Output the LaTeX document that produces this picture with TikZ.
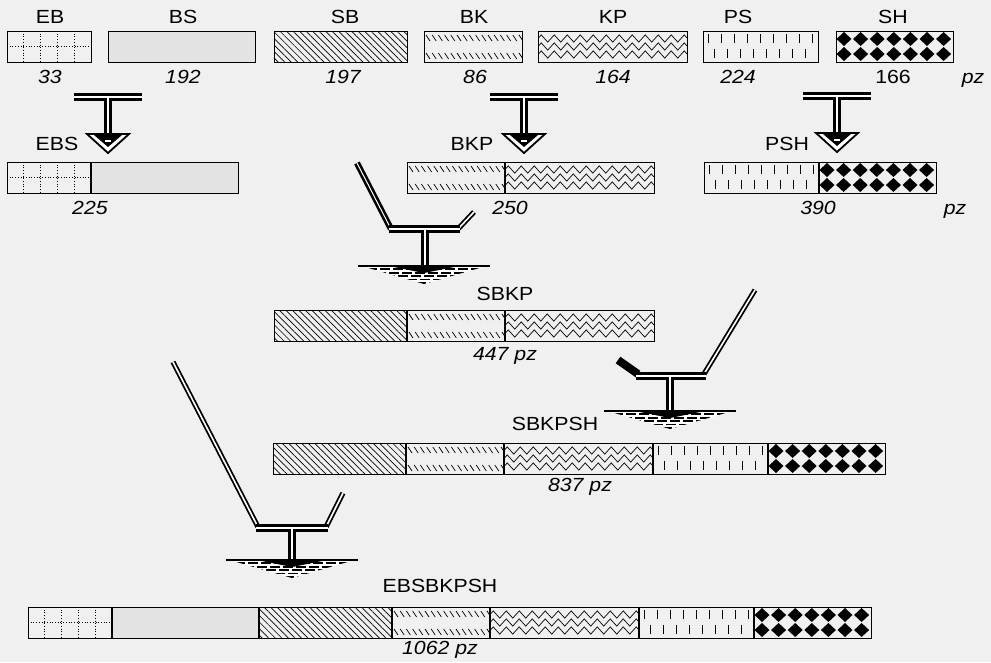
\documentclass[tikz,border=0pt]{standalone}
\usepackage{fontspec}
\setmainfont[FakeStretch=1.12]{Liberation Sans}
\usetikzlibrary{positioning,calc,patterns.meta,decorations.pathmorphing}

\tikzset{
    fineline/.style={line width=0.7pt},
    seg/.style={draw, line width=0.9pt, minimum height=31pt, inner sep=0pt, outer sep=0pt},
    segEB/.style={seg, minimum width=84pt, path picture={
        \coordinate (nw) at (path picture bounding box.north west);
        \draw[fineline, dotted] ($(nw)+(0,-15.5pt)$) -- ++(84pt,0);
        \foreach \i in {1,...,4}
            \draw[fineline, dotted] ($(nw)+(\i*16.8pt,0)$) -- ++(0,-31pt);
    }},
    segBS/.style={seg, minimum width=147pt, fill=black!11},
    segSB/.style={seg, minimum width=133pt,
        pattern={Lines[angle=-45, distance=4.6pt, line width=0.7pt]}},
    segBK/.style={seg, minimum width=98pt, path picture={
        \coordinate (nw) at (path picture bounding box.north west);
        \foreach \i in {0,...,15}{
            \draw[fineline] ($(nw)+(\i*6.2pt+2pt,-4pt)$) -- ++(4pt,-6pt);
            \draw[fineline] ($(nw)+(\i*6.2pt+2pt,-22pt)$) -- ++(4pt,-6pt);
        }
    }},
    segKP/.style={seg, minimum width=149pt, path picture={
        \coordinate (nw) at (path picture bounding box.north west);
        \foreach \k in {7.5,15.5,23.5}
            \draw[fineline, decorate, decoration={zigzag, segment length=13pt, amplitude=3.6pt}]
                ($(nw)+(0,-\k*1pt)$) -- ++(170pt,0);
    }},
    segPS/.style={seg, minimum width=115pt, path picture={
        \coordinate (nw) at (path picture bounding box.north west);
        \foreach \i in {0,...,8}{
            \draw[fineline] ($(nw)+(\i*13pt+5pt,-3pt)$) -- ++(0,-9pt);
            \draw[fineline] ($(nw)+(\i*13pt+11.5pt,-18pt)$) -- ++(0,-9pt);
        }
    }},
    segSH/.style={seg, minimum width=117pt, path picture={
        \coordinate (nw) at (path picture bounding box.north west);
        \foreach \i in {0,...,6}
            \foreach \r in {0,1}
                \fill ($(nw)+(\i*16.6pt+8pt,-\r*15pt-1pt)$) -- ++(7.5pt,-7pt) -- ++(-7.5pt,-7pt) -- ++(-7.5pt,7pt) -- cycle;
    }},
    divider/.style={line width=2.2pt},
    lab/.style={font=\fontsize{19}{21}\selectfont, inner sep=0pt, text height=1.5ex, text depth=.25ex},
    num/.style={font=\fontsize{19}{21}\selectfont\itshape, inner sep=0pt, text height=1.5ex, text depth=.25ex},
    pipe/.style={line width=2.8pt, double=white, double distance=2.8pt},
    arm/.style={line width=1.8pt, double=white, double distance=1.6pt},
    armdark/.style={line width=2.6pt, double=white, double distance=1pt},
    stub/.style={line width=8pt},
    % small T with its hopper, origin at the middle of the bar
    tee/.pic={
        \draw[pipe] (-34pt,0) -- (34pt,0) (0,0) -- (0,-42pt);
        \filldraw[fill=white, line width=1.8pt] (-21pt,-37pt) -- (21pt,-37pt) -- (0,-56pt) -- cycle;
        \fill (-14pt,-38pt) -- (14pt,-38pt) -- (0,-50pt) -- cycle;
        \draw[white, line width=1.5pt] (-3pt,-44pt) -- (3pt,-44pt);
    },
    % wide hopper, origin at the middle of its top edge
    hopper/.pic={
        \fill[white] (-66pt,0) -- (66pt,0) -- (0,-19pt) -- cycle;
        \begin{scope}
            \clip (-66pt,0) -- (66pt,0) -- (0,-19pt) -- cycle;
            \foreach \k [evaluate=\k as \ph using \k*4] in {0,...,5}
                \draw[line width=1.9pt, dash pattern=on 10pt off 3pt, dash phase=\ph pt]
                    (-66pt,-\k*3.4pt-0.9pt) -- (66pt,-\k*3.4pt-0.9pt);
        \end{scope}
        \draw[line width=2.4pt] (-66pt,-1.2pt) -- (66pt,-1.2pt);
        \fill (-30pt,-2pt) -- (30pt,-2pt) -- (0,-8pt) -- cycle;
    }
}

\begin{document}
\begin{tikzpicture}[x=1pt, y=1pt]
\useasboundingbox (0,0) rectangle (991,-662);
\fill[black!6] (0,0) rectangle (991,-662);

% the seven fragments
\node[segEB, anchor=north west] (eb) at (7,-31) {};
\node[segBS, anchor=north west] (bs) at (108,-31) {};
\node[segSB, anchor=north west] (sb) at (274,-31) {};
\node[segBK, anchor=north west] (bk) at (424,-31) {};
\node[segKP, anchor=north west] (kp) at (538,-31) {};
\node[segPS, anchor=north west] (ps) at (703,-31) {};
\node[segSH, anchor=north west] (sh) at (836,-31) {};

\node[lab] (lab-eb) at (50,-20) {EB};
\node[lab] (lab-bs) at (183,-20) {BS};
\node[lab] (lab-sb) at (345,-20) {SB};
\node[lab] (lab-bk) at (474,-20) {BK};
\node[lab] (lab-kp) at (613,-20) {KP};
\node[lab] (lab-ps) at (738,-20) {PS};
\node[lab] (lab-sh) at (893,-20) {SH};
\node[num] (n-eb) at (50,-80) {33};
\node[num] (n-bs) at (183,-80) {192};
\node[num] (n-sb) at (343,-80) {197};
\node[num] (n-bk) at (475,-80) {86};
\node[num] (n-kp) at (613,-80) {164};
\node[num] (n-ps) at (738,-80) {224};
\node[lab] (n-sh) at (893,-80) {166};
\node[num] (pz-a) at (973,-80) {pz};

% first joins
\pic at (108,-97) {tee};
\pic at (524,-97) {tee};
\pic at (837,-96) {tee};

\node[segEB, anchor=north west] (ebs-eb) at (7,-162) {};
\node[segBS, right=0pt of ebs-eb] (ebs-bs) {};
\node[segBK, anchor=north west] (bkp-bk) at (407,-162) {};
\node[segKP, right=0pt of bkp-bk] (bkp-kp) {};
\node[segPS, anchor=north west] (psh-ps) at (704,-162) {};
\node[segSH, right=0pt of psh-ps] (psh-sh) {};
\draw[divider] (ebs-eb.north east) -- (ebs-eb.south east);
\draw[divider] (bkp-bk.north east) -- (bkp-bk.south east);
\draw[divider] (psh-ps.north east) -- (psh-ps.south east);

\node[lab] (lab-ebs) at (57,-147) {EBS};
\node[lab] (lab-bkp) at (472,-147) {BKP};
\node[lab] (lab-psh) at (787,-147) {PSH};
\node[num] (n-ebs) at (90,-211) {225};
\node[num] (n-bkp) at (510,-211) {250};
\node[num] (n-psh) at (818,-211) {390};
\node[num] (pz-b) at (955,-211) {pz};

% SB + BKP
\draw[armdark] (357,-163) -- (391,-229);
\draw[arm] (458,-229) -- (474,-212);
\draw[pipe] (389,-229) -- (460,-229) (425,-229) -- (425,-266);
\pic at (424,-265) {hopper};

\node[segSB, anchor=north west] (sbkp-sb) at (274,-310) {};
\node[segBK, right=0pt of sbkp-sb] (sbkp-bk) {};
\node[segKP, right=0pt of sbkp-bk] (sbkp-kp) {};
\draw[divider] (sbkp-sb.north east) -- (sbkp-sb.south east);
\draw[divider] (sbkp-bk.north east) -- (sbkp-bk.south east);
\node[lab] (lab-sbkp) at (505,-297) {SBKP};
\node[num] (n-sbkp) at (505,-357) {447 pz};

% SBKP + PSH
\draw[stub] (618,-360) -- (638,-374);
\draw[arm] (704,-374) -- (755,-290);
\draw[pipe] (636,-376) -- (706,-376) (670,-376) -- (670,-411);
\pic at (670,-410) {hopper};

\node[segSB, anchor=north west] (sbkpsh-sb) at (273,-443) {};
\node[segBK, right=0pt of sbkpsh-sb] (sbkpsh-bk) {};
\node[segKP, right=0pt of sbkpsh-bk] (sbkpsh-kp) {};
\node[segPS, right=0pt of sbkpsh-kp] (sbkpsh-ps) {};
\node[segSH, right=0pt of sbkpsh-ps] (sbkpsh-sh) {};
\foreach \s in {sb,bk,kp,ps}
    \draw[divider] (sbkpsh-\s.north east) -- (sbkpsh-\s.south east);
\node[lab] (lab-sbkpsh) at (555,-427) {SBKPSH};
\node[num] (n-sbkpsh) at (580,-488) {837 pz};

% EBS + SBKPSH
\draw[arm] (173,-362) -- (258,-527);
\draw[arm] (326,-527) -- (343,-493);
\draw[pipe] (256,-528) -- (328,-528) (292,-528) -- (292,-560);
\pic at (292,-559) {hopper};

\node[segEB, anchor=north west] (all-eb) at (28,-607) {};
\node[segBS, right=0pt of all-eb] (all-bs) {};
\node[segSB, right=0pt of all-bs] (all-sb) {};
\node[segBK, right=0pt of all-sb] (all-bk) {};
\node[segKP, right=0pt of all-bk] (all-kp) {};
\node[segPS, right=0pt of all-kp] (all-ps) {};
\node[segSH, right=0pt of all-ps] (all-sh) {};
\foreach \s in {eb,bs,sb,bk,kp,ps}
    \draw[divider] (all-\s.north east) -- (all-\s.south east);
\node[lab] (lab-all) at (440,-589) {EBSBKPSH};
\node[num] (n-all) at (440,-651) {1062 pz};
\end{tikzpicture}
\end{document}
